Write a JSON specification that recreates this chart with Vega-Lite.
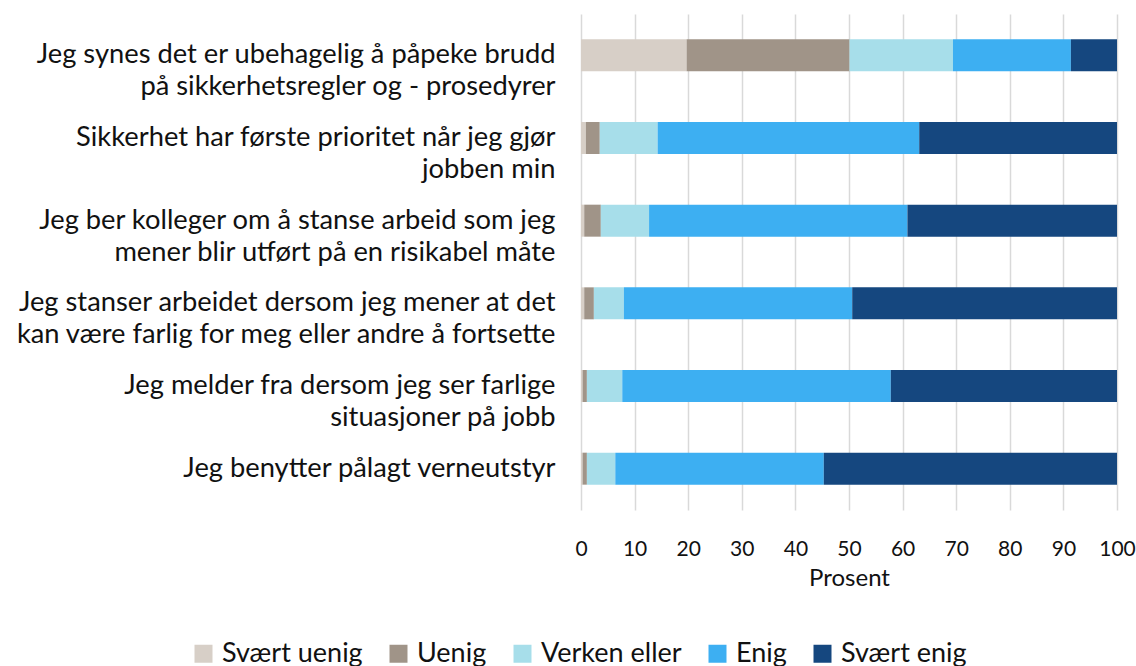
{
  "$schema": "https://vega.github.io/schema/vega-lite/v6.json",
  "width": 536,
  "height": 496,
  "autosize": {"type": "none"},
  "padding": {"left": 581, "top": 14, "right": 19, "bottom": 156},
  "background": "white",
  "config": {"view": {"stroke": null}, "font": "Lato"},
  "data": {
    "values": [
      {"q": "Jeg synes det er ubehagelig å påpeke brudd|på sikkerhetsregler og - prosedyrer", "svar": "Svært uenig", "n": 1, "pct": 19.7},
      {"q": "Jeg synes det er ubehagelig å påpeke brudd|på sikkerhetsregler og - prosedyrer", "svar": "Uenig", "n": 2, "pct": 30.4},
      {"q": "Jeg synes det er ubehagelig å påpeke brudd|på sikkerhetsregler og - prosedyrer", "svar": "Verken eller", "n": 3, "pct": 19.3},
      {"q": "Jeg synes det er ubehagelig å påpeke brudd|på sikkerhetsregler og - prosedyrer", "svar": "Enig", "n": 4, "pct": 22.0},
      {"q": "Jeg synes det er ubehagelig å påpeke brudd|på sikkerhetsregler og - prosedyrer", "svar": "Svært enig", "n": 5, "pct": 8.6},
      {"q": "Sikkerhet har første prioritet når jeg gjør|jobben min", "svar": "Svært uenig", "n": 1, "pct": 0.9},
      {"q": "Sikkerhet har første prioritet når jeg gjør|jobben min", "svar": "Uenig", "n": 2, "pct": 2.6},
      {"q": "Sikkerhet har første prioritet når jeg gjør|jobben min", "svar": "Verken eller", "n": 3, "pct": 10.8},
      {"q": "Sikkerhet har første prioritet når jeg gjør|jobben min", "svar": "Enig", "n": 4, "pct": 48.8},
      {"q": "Sikkerhet har første prioritet når jeg gjør|jobben min", "svar": "Svært enig", "n": 5, "pct": 36.9},
      {"q": "Jeg ber kolleger om å stanse arbeid som jeg|mener blir utført på en risikabel måte", "svar": "Svært uenig", "n": 1, "pct": 0.6},
      {"q": "Jeg ber kolleger om å stanse arbeid som jeg|mener blir utført på en risikabel måte", "svar": "Uenig", "n": 2, "pct": 3.1},
      {"q": "Jeg ber kolleger om å stanse arbeid som jeg|mener blir utført på en risikabel måte", "svar": "Verken eller", "n": 3, "pct": 9.0},
      {"q": "Jeg ber kolleger om å stanse arbeid som jeg|mener blir utført på en risikabel måte", "svar": "Enig", "n": 4, "pct": 48.2},
      {"q": "Jeg ber kolleger om å stanse arbeid som jeg|mener blir utført på en risikabel måte", "svar": "Svært enig", "n": 5, "pct": 39.1},
      {"q": "Jeg stanser arbeidet dersom jeg mener at det|kan være farlig for meg eller andre å fortsette", "svar": "Svært uenig", "n": 1, "pct": 0.6},
      {"q": "Jeg stanser arbeidet dersom jeg mener at det|kan være farlig for meg eller andre å fortsette", "svar": "Uenig", "n": 2, "pct": 1.8},
      {"q": "Jeg stanser arbeidet dersom jeg mener at det|kan være farlig for meg eller andre å fortsette", "svar": "Verken eller", "n": 3, "pct": 5.6},
      {"q": "Jeg stanser arbeidet dersom jeg mener at det|kan være farlig for meg eller andre å fortsette", "svar": "Enig", "n": 4, "pct": 42.6},
      {"q": "Jeg stanser arbeidet dersom jeg mener at det|kan være farlig for meg eller andre å fortsette", "svar": "Svært enig", "n": 5, "pct": 49.4},
      {"q": "Jeg melder fra dersom jeg ser farlige|situasjoner på jobb", "svar": "Svært uenig", "n": 1, "pct": 0.3},
      {"q": "Jeg melder fra dersom jeg ser farlige|situasjoner på jobb", "svar": "Uenig", "n": 2, "pct": 0.8},
      {"q": "Jeg melder fra dersom jeg ser farlige|situasjoner på jobb", "svar": "Verken eller", "n": 3, "pct": 6.6},
      {"q": "Jeg melder fra dersom jeg ser farlige|situasjoner på jobb", "svar": "Enig", "n": 4, "pct": 50.1},
      {"q": "Jeg melder fra dersom jeg ser farlige|situasjoner på jobb", "svar": "Svært enig", "n": 5, "pct": 42.2},
      {"q": "Jeg benytter pålagt verneutstyr", "svar": "Svært uenig", "n": 1, "pct": 0.3},
      {"q": "Jeg benytter pålagt verneutstyr", "svar": "Uenig", "n": 2, "pct": 0.8},
      {"q": "Jeg benytter pålagt verneutstyr", "svar": "Verken eller", "n": 3, "pct": 5.3},
      {"q": "Jeg benytter pålagt verneutstyr", "svar": "Enig", "n": 4, "pct": 38.9},
      {"q": "Jeg benytter pålagt verneutstyr", "svar": "Svært enig", "n": 5, "pct": 54.7}
    ]
  },
  "mark": {"type": "bar"},
  "encoding": {
    "y": {
      "field": "q",
      "type": "nominal",
      "sort": null,
      "scale": {"paddingInner": 0.613, "paddingOuter": 0.3065},
      "axis": {
        "title": null,
        "labelExpr": "split(datum.label, '|')",
        "labelFont": "Lato",
        "labelFontSize": 27.3,
        "labelLineHeight": 32,
        "labelColor": "#111111",
        "labelPadding": 26,
        "labelLimit": 600,
        "ticks": false,
        "domain": false,
        "grid": false
      }
    },
    "x": {
      "field": "pct",
      "type": "quantitative",
      "stack": "zero",
      "scale": {"domain": [0, 100], "nice": false},
      "axis": {
        "title": "Prosent",
        "values": [0, 10, 20, 30, 40, 50, 60, 70, 80, 90, 100],
        "labelFontSize": 21,
        "labelColor": "#111111",
        "labelPadding": 28,
        "titleFontSize": 24,
        "titleFontWeight": "normal",
        "titleColor": "#111111",
        "titlePadding": 7,
        "ticks": false,
        "domain": false,
        "grid": true,
        "gridColor": "#D9D9D9",
        "gridWidth": 1.5,
        "labelFlush": false
      }
    },
    "color": {
      "field": "svar",
      "type": "nominal",
      "sort": ["Svært uenig", "Uenig", "Verken eller", "Enig", "Svært enig"],
      "scale": {
        "domain": ["Svært uenig", "Uenig", "Verken eller", "Enig", "Svært enig"],
        "range": ["#D7CFC7", "#A09488", "#A7DEEA", "#3DAFF2", "#15477F"]
      },
      "legend": {
        "title": null,
        "orient": "none",
        "direction": "horizontal",
        "legendX": -391,
        "legendY": 626,
        "symbolType": "square",
        "symbolSize": 324,
        "symbolStrokeWidth": 0,
        "labelFontSize": 27,
        "labelColor": "#111111",
        "labelOffset": 5,
        "columnPadding": 22,
        "labelLimit": 300
      }
    },
    "order": {"field": "n", "type": "quantitative"}
  }
}
